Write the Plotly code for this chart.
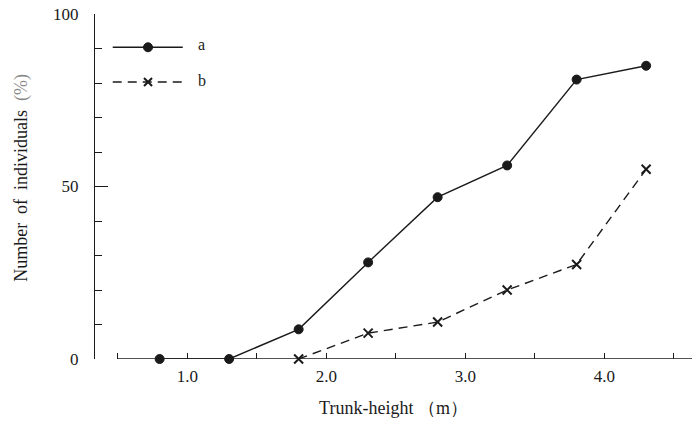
import plotly.graph_objects as go

# Data
trunk_height_a = [0.8, 1.3, 1.8, 2.3, 2.8, 3.3, 3.8, 4.3]
series_a = [0, 0, 8.6, 28.0, 46.9, 56.1, 81.0, 85.0]
trunk_height_b = [1.8, 2.3, 2.8, 3.3, 3.8, 4.3]
series_b = [0, 7.5, 10.7, 20.0, 27.4, 55.0]
x_tick_vals = [1.0, 2.0, 3.0, 4.0]
x_tick_text = ["1.0", "2.0", "3.0", "4.0"]
y_tick_vals = [0, 50, 100]
y_tick_text = ["0", "50", "100"]
series_names = ["a", "b"]

FONT = "Liberation Serif"
INK = "#1a1a1a"
NB = "\u00a0"

fig = go.Figure()
fig.add_trace(go.Scatter(
    x=trunk_height_a, y=series_a, mode="lines+markers", name=series_names[0],
    line=dict(color=INK, width=1.4),
    marker=dict(symbol="circle", size=9, color=INK, line=dict(color=INK, width=1)),
    cliponaxis=False, showlegend=False))
fig.add_trace(go.Scatter(
    x=trunk_height_b, y=series_b, mode="lines+markers", name=series_names[1],
    line=dict(color=INK, width=1.4, dash="9px,6px"),
    marker=dict(symbol="x-thin", size=9, color=INK, line=dict(color=INK, width=2)),
    cliponaxis=False, showlegend=False))

shapes = []
# x-axis line starting at 0.5
shapes.append(dict(type="line", xref="x", yref="y", x0=0.5, x1=4.63, y0=0, y1=0,
                   line=dict(color=INK, width=1.4)))
# manual legend
la_y, lb_y = 0.9035, 0.803
lx0, lx1, lmx = 0.0297, 0.147, 0.0888
shapes.append(dict(type="line", xref="paper", yref="paper", x0=lx0, x1=lx1, y0=la_y, y1=la_y,
                   line=dict(color=INK, width=1.4)))
shapes.append(dict(type="circle", xref="paper", yref="paper", xsizemode="pixel", ysizemode="pixel",
                   xanchor=lmx, yanchor=la_y, x0=-4.5, x1=4.5, y0=-4.5, y1=4.5,
                   fillcolor=INK, line=dict(color=INK, width=1)))
shapes.append(dict(type="line", xref="paper", yref="paper", x0=lx0, x1=lx1, y0=lb_y, y1=lb_y,
                   line=dict(color=INK, width=1.4, dash="9px,6px")))
for sx in (1, -1):
    shapes.append(dict(type="line", xref="paper", yref="paper", xsizemode="pixel", ysizemode="pixel",
                       xanchor=lmx, yanchor=lb_y, x0=-4, x1=4, y0=-4 * sx, y1=4 * sx,
                       line=dict(color=INK, width=2)))

y_title = ("Number" + NB + " of" + NB + " individuals" + NB + " "
           + '<span style="color:#888888">(%)</span>')

annotations = [
    dict(text=series_names[0], xref="paper", yref="paper", x=0.169, y=la_y + 0.008,
         xanchor="left", yanchor="middle", showarrow=False, font=dict(family=FONT, size=16, color=INK)),
    dict(text=series_names[1], xref="paper", yref="paper", x=0.169, y=lb_y + 0.005,
         xanchor="left", yanchor="middle", showarrow=False, font=dict(family=FONT, size=16, color=INK)),
    dict(text=y_title, xref="paper", yref="paper", x=-0.1223, y=0.525, textangle=-90,
         xanchor="center", yanchor="middle", showarrow=False, font=dict(family=FONT, size=18, color=INK)),
]

fig.update_layout(
    width=694, height=428,
    margin=dict(l=95, r=2, t=14, b=69, autoexpand=False),
    paper_bgcolor="white", plot_bgcolor="white",
    font=dict(family=FONT, size=16, color=INK),
    shapes=shapes, annotations=annotations,
    xaxis=dict(
        range=[0.335, 4.63], showgrid=False, zeroline=False, showline=False, automargin=False,
        tickvals=x_tick_vals, ticktext=x_tick_text,
        ticks="inside", ticklen=6, tickwidth=1.4, tickcolor=INK,
        minor=dict(dtick=0.5, tick0=0.5, ticks="inside", ticklen=6, tickwidth=1.4, tickcolor=INK, showgrid=False),
        tickfont=dict(family=FONT, size=17, color=INK),
        ticklabelstandoff=5,
        title=dict(text="Trunk-height" + NB + "（m）", font=dict(family=FONT, size=18, color=INK), standoff=16),
    ),
    yaxis=dict(
        range=[0, 100], showgrid=False, zeroline=False, showline=True, linecolor=INK, linewidth=1.4,
        automargin=False,
        tickvals=y_tick_vals, ticktext=y_tick_text,
        ticks="inside", ticklen=13, tickwidth=1.4, tickcolor=INK,
        minor=dict(dtick=10, tick0=0, ticks="inside", ticklen=7, tickwidth=1.4, tickcolor=INK, showgrid=False),
        tickfont=dict(family=FONT, size=17, color=INK),
        ticklabelstandoff=12,
    ),
)

fig.write_html("out.html", config={"displayModeBar": False},
               post_script="document.body.style.margin='0';")
